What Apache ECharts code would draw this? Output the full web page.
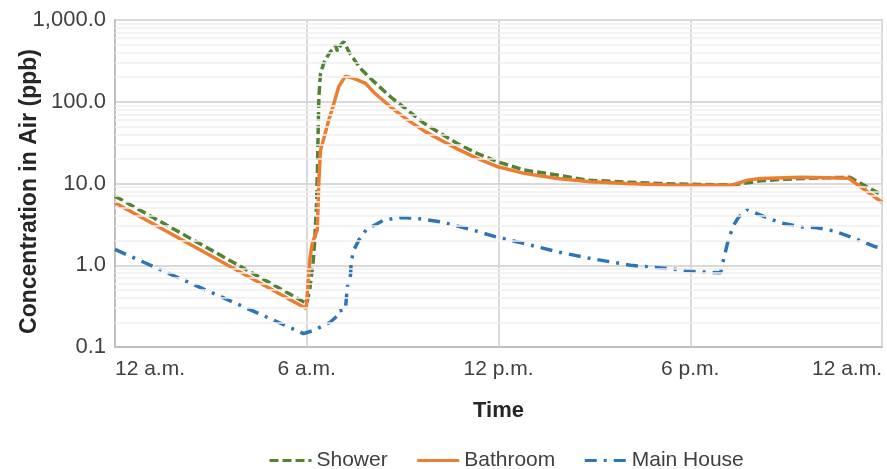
<!DOCTYPE html>
<html>
<head>
<meta charset="utf-8">
<script src="https://cdn.jsdelivr.net/npm/echarts@6/dist/echarts.min.js"></script>
<style>
html,body{margin:0;padding:0;background:#fff;}
#chart{width:887px;height:469px;}
</style>
</head>
<body>
<div id="chart"></div>
<script>
// ---- data (hours since midnight, concentration ppb) ----
var seriesNames = ['Shower', 'Bathroom', 'Main House'];

var showerHours = [0, 6.0, 6.1, 6.2, 6.25, 6.3, 6.33, 6.36, 6.38, 6.43, 6.53, 6.64, 6.74, 6.85, 6.9, 6.96, 7.06, 7.16, 7.32, 7.53, 7.73, 8.05, 8.62, 9.15, 9.67, 10.19, 10.71, 11.33, 11.98, 12.8, 13.84, 14.77, 16.0, 17.0, 18.0, 19.3, 19.8, 20.2, 21.0, 22.0, 23.0, 24.0];
var showerValues = [7.0, 0.34, 0.53, 1.1, 2.0, 5.0, 12, 50, 115, 223, 295, 356, 409, 451, 494, 415, 494, 543, 409, 309, 244, 184, 115, 79, 54.4, 41, 30.9, 23.3, 18.4, 14.6, 12.7, 11.0, 10.4, 10.0, 9.8, 9.6, 10.2, 10.8, 11.3, 11.7, 11.9, 7.2];

var bathroomHours = [0, 5.98, 6.05, 6.1, 6.18, 6.33, 6.38, 6.43, 6.5, 6.69, 6.85, 7.0, 7.21, 7.47, 7.84, 8.12, 8.6, 9.15, 9.67, 10.19, 10.71, 11.23, 11.98, 12.8, 13.84, 14.88, 16.0, 17.3, 18.3, 19.26, 19.5, 19.8, 20.2, 21.5, 22.96, 24.0];
var bathroomValues = [5.8, 0.295, 0.66, 1.22, 1.91, 2.69, 11, 25.6, 32, 59.7, 95.5, 153, 206, 193, 168, 128, 88, 60, 44, 34, 26.5, 21.2, 16, 13.3, 11.5, 10.5, 10.0, 9.6, 9.5, 9.5, 10.1, 11.0, 11.5, 11.9, 11.6, 5.9];

var mainHouseHours = [0, 5.9, 6.22, 6.74, 6.98, 7.0, 7.21, 7.27, 7.37, 7.39, 7.47, 7.63, 7.86, 8.41, 8.93, 9.46, 10.19, 11.13, 11.98, 12.79, 13.84, 14.88, 16.13, 17.28, 18.32, 18.95, 19.05, 19.2, 19.36, 19.52, 19.78, 20.2, 20.46, 20.83, 21.45, 21.97, 22.49, 23.07, 23.74, 24.0];
var mainHouseValues = [1.56, 0.146, 0.16, 0.202, 0.245, 0.275, 0.287, 0.55, 0.755, 1.1, 1.53, 2.03, 2.72, 3.56, 3.84, 3.75, 3.40, 2.74, 2.19, 1.85, 1.46, 1.21, 1.0, 0.912, 0.83, 0.81, 1.21, 2.12, 3.09, 3.91, 4.81, 4.1, 3.73, 3.3, 2.95, 2.88, 2.63, 2.19, 1.71, 1.6];

var xTickLabels = ['12 a.m.', '6 a.m.', '12 p.m.', '6 p.m.', '12 a.m.'];
var yTickLabels = ['0.1', '1.0', '10.0', '100.0', '1,000.0'];
var minorGridValues = [0.2, 0.3, 0.4, 0.5, 0.6, 0.7, 0.8, 0.9, 2, 3, 4, 5, 6, 7, 8, 9, 20, 30, 40, 50, 60, 70, 80, 90, 200, 300, 400, 500, 600, 700, 800, 900];

function zip(xs, ys) { return xs.map(function (x, i) { return [x, ys[i]]; }); }

var FONT = '"Liberation Sans", Arial, sans-serif';
var chart = echarts.init(document.getElementById('chart'), null, {renderer: 'canvas'});

chart.setOption({
  animation: false,
  backgroundColor: '#ffffff',
  textStyle: {fontFamily: FONT},
  grid: {left: 115, right: 5, top: 20, bottom: 122, containLabel: false,
         outerBoundsMode: 'none',
         show: true, borderColor: '#bfbfbf', borderWidth: 2},
  legend: {
    data: seriesNames,
    left: 263, top: 445,
    itemWidth: 42, itemHeight: 14, itemGap: 28,
    itemStyle: {opacity: 0},
    lineStyle: {width: 3},
    textStyle: {fontSize: 21, color: '#404040', fontFamily: FONT}
  },
  xAxis: {
    type: 'value', min: 0, max: 24, interval: 6,
    name: 'Time', nameLocation: 'middle', nameGap: 53, nameMoveOverlap: false,
    nameTextStyle: {fontSize: 22, fontWeight: 'bold', color: '#262626', fontFamily: FONT},
    axisLine: {show: true, lineStyle: {color: '#bfbfbf', width: 2}},
    axisTick: {show: false},
    axisLabel: {fontSize: 21, color: '#404040', margin: 12, fontFamily: FONT,
      alignMinLabel: 'left', alignMaxLabel: 'right',
      formatter: function (v) { return xTickLabels[Math.round(v / 6)]; }},
    splitLine: {show: true, lineStyle: {color: '#d9d9d9', width: 2}}
  },
  yAxis: {
    type: 'log', logBase: 10, min: 0.1, max: 1000,
    name: 'Concentration in Air (ppb)', nameLocation: 'middle', nameGap: 74, nameMoveOverlap: false,
    nameTextStyle: {fontSize: 23, fontWeight: 'bold', color: '#262626', fontFamily: FONT,
                    padding: [0, 16, 0, 0]},
    axisLine: {show: true, lineStyle: {color: '#bfbfbf', width: 2}},
    axisTick: {show: false},
    axisLabel: {fontSize: 22, color: '#404040', margin: 9, fontFamily: FONT,
      formatter: function (v) { return yTickLabels[Math.round(Math.log10(v)) + 1]; }},
    splitLine: {show: true, lineStyle: {color: '#d9d9d9', width: 2}}
  },
  series: [
    {
      type: 'line', z: 1, data: [], silent: true,
      markLine: {
        silent: true, symbol: ['none', 'none'], label: {show: false},
        lineStyle: {color: '#efefef', type: 'solid', width: 1.5},
        emphasis: {disabled: true},
        data: minorGridValues.map(function (v) { return {yAxis: v}; })
      }
    },
    {
      name: 'Shower', type: 'line', symbol: 'none', z: 3,
      data: zip(showerHours, showerValues),
      lineStyle: {color: '#548235', width: 3.5, type: [9, 4]},
      itemStyle: {color: '#548235'}
    },
    {
      name: 'Bathroom', type: 'line', symbol: 'none', z: 4,
      data: zip(bathroomHours, bathroomValues),
      lineStyle: {color: '#ED7D31', width: 3.5, type: 'solid'},
      itemStyle: {color: '#ED7D31'}
    },
    {
      name: 'Main House', type: 'line', symbol: 'none', z: 3,
      data: zip(mainHouseHours, mainHouseValues),
      lineStyle: {color: '#2E75B6', width: 3.5, type: [12, 7, 3, 7]},
      itemStyle: {color: '#2E75B6'}
    }
  ]
});
</script>
</body>
</html>
